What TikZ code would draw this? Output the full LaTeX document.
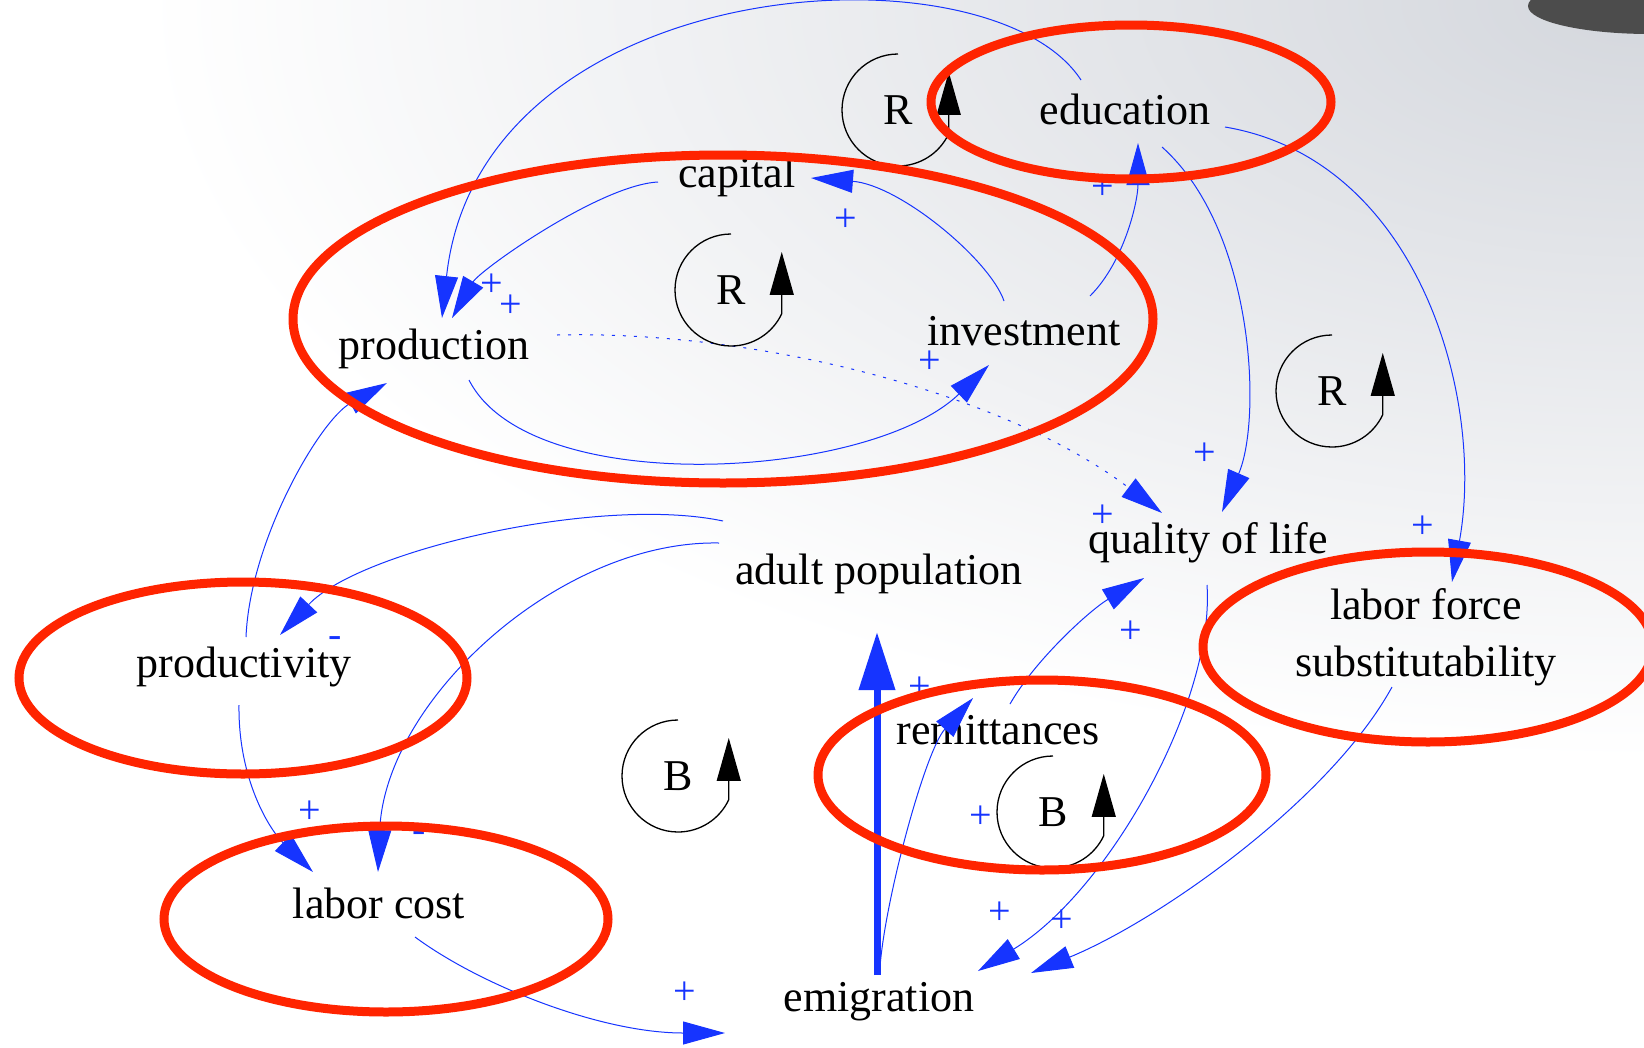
\documentclass[tikz,border=0pt]{standalone}
\usepackage{fontspec}
\setmainfont{Liberation Serif}
\usepackage{tikz}
\usetikzlibrary{arrows.meta}
\usetikzlibrary{calc}

\definecolor{ringred}{RGB}{255,36,0}
\definecolor{causeblue}{RGB}{22,52,255}
\definecolor{slidegray}{RGB}{212,215,221}

\tikzset{
    var/.style={font=\fontsize{44}{57}\selectfont, inner sep=0pt, align=center},
    sign/.style={text=causeblue, font=\fontsize{40}{40}\selectfont, inner sep=0pt},
    link/.style={draw=causeblue, line width=1pt, -{Triangle[length=42pt, width=23pt]}},
    flow/.style={draw=causeblue, line width=7pt, -{Triangle[length=58pt, width=35pt]}},
    loopline/.style={draw=black, line width=1.3pt, -{Triangle[length=43pt, width=24pt]}},
    ring/.style={draw=ringred, line width=9pt},
}

% loop marker: name, centre, letter
\newcommand{\loopmark}[3]{%
    \node[var] (#1) at (#2) {#3};
    \draw[loopline] ($(#1.center)+(0,56)$) arc[start angle=90, end angle=335, radius=56] -- ++(0,61.7);
}

\begin{document}
\begin{tikzpicture}[x=1pt, y=1pt]
    \useasboundingbox (0,0) rectangle (1644,-1047);
    \clip (0,0) rectangle (1644,-1047);
    \fill[white] (0,0) rectangle (1644,-1047);
    \shade[inner color=slidegray, outer color=white] (1644,0) ellipse [x radius=1500, y radius=760];
    \fill[black!70] (1650,-6) ellipse [x radius=122, y radius=28];

    % variables
    \node[var] (education) at (1125,-109) {education};
    \node[var] (capital) at (737,-177) {capital};
    \node[var] (production) at (434,-349) {production};
    \node[var] (investment) at (1024,-331) {investment};
    \node[var] (quality) at (1208,-543) {quality of life};
    \node[var] (adultpop) at (879,-574) {adult population};
    \node[var] (productivity) at (244,-667) {productivity};
    \node[var] (substitution) at (1426,-637) {labor force\\substitutability};
    \node[var] (remittances) at (998,-730) {remittances};
    \node[var] (laborcost) at (379,-903) {labor cost};
    \node[var] (emigration) at (879,-1002) {emigration};

    % causal links
    \draw[link] ($(capital)+(-79,-5)$) .. controls +(-58,-3) and +(28,48) .. ($(production)+(18,31)$);
    \draw[link] ($(education)+(-44,29)$) .. controls +(-91,140) and +(38,348) .. ($(production)+(8,31)$);
    \draw[link] ($(investment)+(-20,30)$) .. controls +(-14,41) and +(89,-7) .. ($(capital)+(74,-1)$);
    \draw[link] ($(production)+(35,-31)$) .. controls +(61,-120) and +(-119,-115) .. ($(investment)+(-35,-34)$);
    \draw[link, dash pattern=on 3pt off 8pt] ($(production)+(123,14)$) .. controls +(193,5) and +(-162,123) .. ($(quality)+(-46,30)$);
    \draw[link] ($(investment)+(66,35)$) .. controls +(35,35) and +(0,-57) .. ($(education)+(13,-34)$);
    \draw[link] ($(education)+(37,-38)$) .. controls +(93,-83) and +(40,92) .. ($(quality)+(14,31)$);
    \draw[link] ($(education)+(100,-18)$) .. controls +(195,-33) and +(33,182) .. ($(substitution)+(26,55)$);
    \draw[link] ($(productivity)+(2,30)$) .. controls +(4,97) and +(-67,-37) .. ($(production)+(-47,-34)$);
    \draw[link] ($(adultpop)+(-156,53)$) .. controls +(-123,26) and +(80,85) .. ($(productivity)+(36,32)$);
    \draw[link] ($(adultpop)+(-160,31)$) .. controls +(-159,3) and +(7,172) .. ($(laborcost)+(-1,31)$);
    \draw[link] ($(productivity)+(-5,-38)$) .. controls +(-1,-75) and +(-43,42) .. ($(laborcost)+(-66,31)$);
    \draw[link] ($(laborcost)+(36,-34)$) .. controls +(65,-48) and +(-125,0) .. ($(emigration)+(-154,-31)$);
    \draw[flow] ($(emigration)+(-2,27)$) -- ($(adultpop)+(-2,-58)$);
    \draw[link] ($(emigration)+(1,35)$) .. controls +(5,67) and +(-48,-53) .. ($(remittances)+(-25,32)$);
    \draw[link] ($(remittances)+(12,26)$) .. controls +(25,44) and +(-54,-32) .. ($(quality)+(-64,-35)$);
    \draw[link] ($(quality)+(-1,-42)$) .. controls +(8,-115) and +(132,81) .. ($(emigration)+(99,31)$);
    \draw[link] ($(substitution)+(-34,-50)$) .. controls +(-62,-113) and +(129,53) .. ($(emigration)+(152,29)$);

    % polarities
    \node[sign] (s1) at (492,-285) {+};
    \node[sign] (s2) at (511,-306) {+};
    \node[sign] (s3) at (846,-220) {+};
    \node[sign] (s4) at (930,-362) {+};
    \node[sign] (s5) at (1103,-188) {+};
    \node[sign] (s6) at (1103,-516) {+};
    \node[sign] (s7) at (1205,-454) {+};
    \node[sign] (s8) at (1423,-527) {+};
    \node[sign] (s9) at (335,-642) {-};
    \node[sign] (s10) at (419,-837) {-};
    \node[sign] (s11) at (310,-812) {+};
    \node[sign] (s12) at (685,-993) {+};
    \node[sign] (s13) at (920,-688) {+};
    \node[sign] (s14) at (981,-817) {+};
    \node[sign] (s15) at (1131,-632) {+};
    \node[sign] (s16) at (1000,-913) {+};
    \node[sign] (s17) at (1062,-921) {+};

    % loop markers
    \loopmark{loopA}{898,-110}{R}
    \loopmark{loopB}{731,-290}{R}
    \loopmark{loopC}{1332,-391}{R}
    \loopmark{loopD}{678,-776}{B}
    \loopmark{loopE}{1053,-812}{B}

    % highlighted groups
    \draw[ring] (1131,-102) ellipse [x radius=200, y radius=77];
    \draw[ring] (723,-319) ellipse [x radius=430, y radius=164];
    \draw[ring] (243,-678) ellipse [x radius=224, y radius=96];
    \draw[ring] (386,-919) ellipse [x radius=222, y radius=93];
    \draw[ring] (1042,-775) ellipse [x radius=224, y radius=95];
    \draw[ring] (1428,-647) ellipse [x radius=225, y radius=95];
\end{tikzpicture}
\end{document}
